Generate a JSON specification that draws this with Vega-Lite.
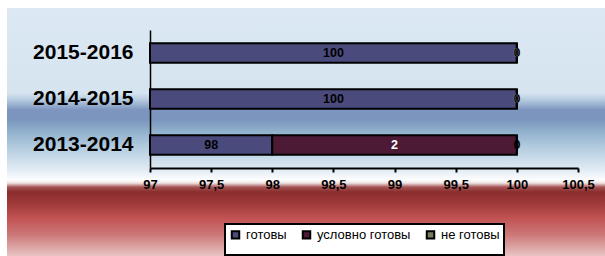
{
  "$schema": "https://vega.github.io/schema/vega-lite/v6.json",
  "width": 598,
  "height": 248,
  "autosize": {"type": "none"},
  "padding": {"left": 7, "top": 8, "right": 0, "bottom": 0},
  "background": "white",
  "view": {
    "stroke": null,
    "fill": {
      "gradient": "linear",
      "x1": 0, "y1": 0, "x2": 0, "y2": 1,
      "stops": [
        {"offset": 0, "color": "#dce9f4"},
        {"offset": 0.343, "color": "#d6e4f0"},
        {"offset": 0.371, "color": "#b4cadf"},
        {"offset": 0.411, "color": "#7d95bf"},
        {"offset": 0.448, "color": "#7a95bd"},
        {"offset": 0.5, "color": "#92b2cd"},
        {"offset": 0.573, "color": "#b9d0e2"},
        {"offset": 0.653, "color": "#e2ecf5"},
        {"offset": 0.694, "color": "#fdfdfe"},
        {"offset": 0.706, "color": "#eee2e2"},
        {"offset": 0.722, "color": "#a55555"},
        {"offset": 0.742, "color": "#8a2c2c"},
        {"offset": 0.794, "color": "#a23c3c"},
        {"offset": 0.847, "color": "#c15252"},
        {"offset": 0.915, "color": "#cd7878"},
        {"offset": 1, "color": "#e8c4c4"}
      ]
    }
  },
  "config": {
    "font": "Liberation Sans",
    "view": {"stroke": null},
    "legend": {"strokeWidth": 2}
  },
  "data": {
    "values": [
      {"year": "2015-2016", "status": "готовы", "value": 100},
      {"year": "2015-2016", "status": "условно готовы", "value": 0},
      {"year": "2015-2016", "status": "не готовы", "value": 0},
      {"year": "2014-2015", "status": "готовы", "value": 100},
      {"year": "2014-2015", "status": "условно готовы", "value": 0},
      {"year": "2014-2015", "status": "не готовы", "value": 0},
      {"year": "2013-2014", "status": "готовы", "value": 98},
      {"year": "2013-2014", "status": "условно готовы", "value": 2},
      {"year": "2013-2014", "status": "не готовы", "value": 0}
    ]
  },
  "transform": [
    {"stack": "value", "groupby": ["year"], "as": ["v0", "v1"]},
    {"calculate": "(max(datum.v0, 97) + datum.v1) / 2", "as": "mid"}
  ],
  "encoding": {
    "y": {
      "field": "year",
      "type": "nominal",
      "sort": ["2015-2016", "2014-2015", "2013-2014"],
      "scale": {"range": [22, 160], "paddingInner": 0.58, "paddingOuter": 0.29},
      "axis": {
        "title": null,
        "orient": "left",
        "offset": -143,
        "ticks": false,
        "labelPadding": 17,
        "labelFontSize": 21,
        "labelFontWeight": "bold",
        "labelColor": "black",
        "labelFont": "Liberation Sans",
        "domainColor": "black",
        "domainWidth": 1.5,
        "grid": false
      }
    }
  },
  "layer": [
    {
      "mark": {"type": "bar", "stroke": "black", "strokeWidth": 2},
      "encoding": {
        "x": {
          "field": "v0",
          "type": "quantitative",
          "scale": {"domain": [97, 100.5], "range": [143, 571], "clamp": true, "zero": false, "nice": false},
          "axis": {
            "title": null,
            "orient": "bottom",
            "offset": -88,
            "values": [97, 97.5, 98, 98.5, 99, 99.5, 100, 100.5],
            "labelExpr": "replace(toString(datum.value), '.', ',')",
            "labelFontSize": 13,
            "labelFontWeight": "bold",
            "labelColor": "black",
            "labelFont": "Liberation Sans",
            "labelPadding": 6,
            "labelFlush": false,
            "labelOverlap": false,
            "tickColor": "black",
            "tickWidth": 2,
            "tickSize": 4,
            "domainColor": "black",
            "domainWidth": 2,
            "grid": false
          }
        },
        "x2": {"field": "v1"},
        "color": {
          "field": "status",
          "type": "nominal",
          "sort": ["готовы", "условно готовы", "не готовы"],
          "scale": {
            "domain": ["готовы", "условно готовы", "не готовы"],
            "range": ["#4a4a7c", "#4c1a35", "#7c7c60"]
          },
          "legend": {
            "orient": "none",
            "legendX": 218,
            "legendY": 216,
            "direction": "horizontal",
            "title": " ",
            "titleOrient": "bottom",
            "titleFontSize": 8,
            "titlePadding": 0,
            "fillColor": "white",
            "strokeColor": "black",
            "padding": 4,
            "symbolType": "square",
            "symbolSize": 56,
            "symbolStrokeColor": "black",
            "symbolStrokeWidth": 2,
            "symbolOpacity": 1,
            "labelFontSize": 13,
            "labelColor": "black",
            "labelFont": "Liberation Sans",
            "labelOffset": 4,
            "columnPadding": 11
          }
        }
      }
    },
    {
      "mark": {"type": "text", "fontWeight": "bold", "fontSize": 12.5, "font": "Liberation Sans"},
      "encoding": {
        "x": {"field": "mid", "type": "quantitative"},
        "text": {"field": "value", "type": "quantitative"},
        "color": {
          "condition": {"test": "datum.status === 'условно готовы'", "value": "white"},
          "value": "black"
        }
      }
    }
  ]
}
